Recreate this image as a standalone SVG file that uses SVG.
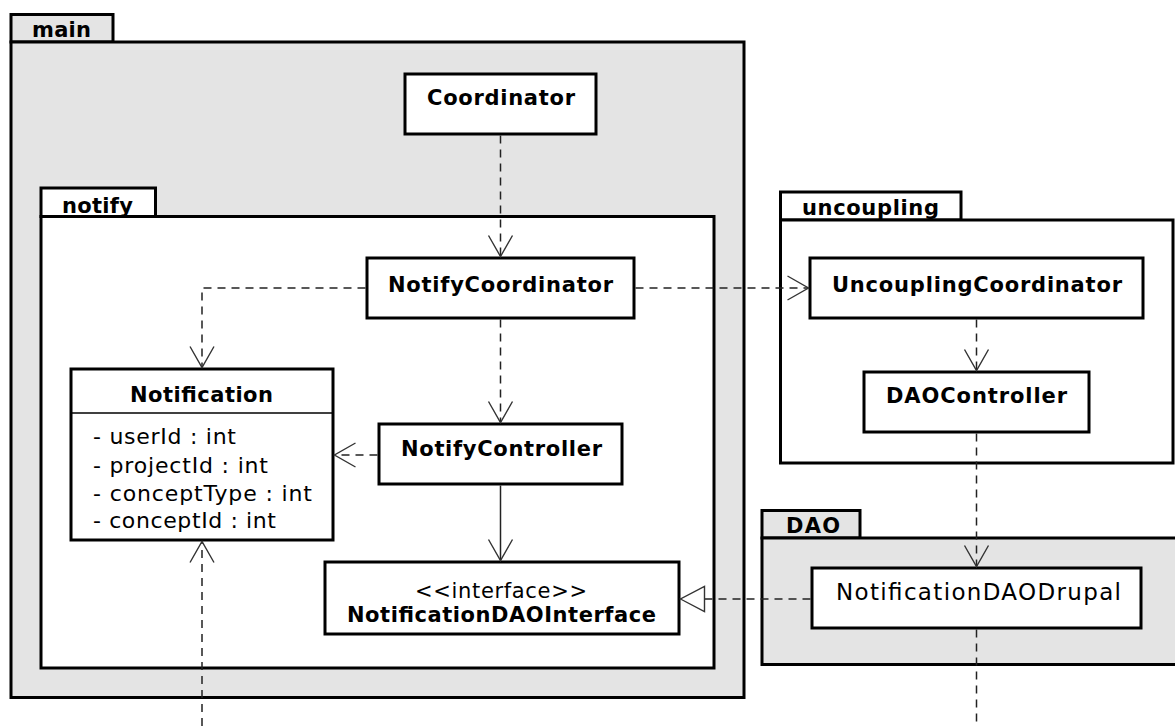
<svg xmlns="http://www.w3.org/2000/svg" width="1175" height="726" viewBox="0 0 1175 726">
  <style>
    .pkg { stroke: #000; stroke-width: 3; }
    .pkg-gray { fill: #e4e4e4; }
    .pkg-white { fill: #fff; }
    .cls { fill: #fff; stroke: #000; stroke-width: 3; }
    .sep { stroke: #000; stroke-width: 1.5; }
    .tab { font-family: "DejaVu Sans", sans-serif; font-weight: bold; font-size: 21px; fill: #000; }
    .name { font-family: "DejaVu Sans", sans-serif; font-weight: bold; font-size: 21px; fill: #000; }
    .plain { font-family: "DejaVu Sans", sans-serif; font-size: 22px; fill: #000; }
    .stereo { font-family: "DejaVu Sans", sans-serif; font-size: 21px; fill: #000; }
    .dep { fill: none; stroke: #222; stroke-width: 1.5; stroke-dasharray: 8 6; }
    .assoc { fill: none; stroke: #222; stroke-width: 1.5; }
  </style>
  <defs>
    <marker id="open" markerUnits="userSpaceOnUse" viewBox="-22 -14 24 28" refX="0" refY="0" markerWidth="24" markerHeight="28" orient="auto" overflow="visible">
      <path d="M -21 -12 L 0 0 L -21 12" fill="none" stroke="#333" stroke-width="1.4"/>
    </marker>
    <marker id="realize" markerUnits="userSpaceOnUse" viewBox="-26 -14 28 28" refX="0" refY="0" markerWidth="28" markerHeight="28" orient="auto" overflow="visible">
      <path d="M 0 0 L -24 -12.5 L -24 12.5 Z" fill="#fff" stroke="#333" stroke-width="1.4"/>
    </marker>
  </defs>

  <rect width="1175" height="726" fill="#fff"/>

  <!-- package: main -->
  <g id="pkg-main">
    <rect class="pkg pkg-gray" x="11" y="14.5" width="102" height="27.5"/>
    <rect class="pkg pkg-gray" x="11" y="42" width="733" height="655.5"/>
    <text class="tab" x="32" y="37" textLength="59" lengthAdjust="spacing">main</text>
  </g>

  <!-- package: notify -->
  <g id="pkg-notify">
    <rect class="pkg pkg-white" x="41" y="188" width="114.5" height="28.5"/>
    <rect class="pkg pkg-white" x="41" y="216.5" width="673" height="451.5"/>
    <text class="tab" x="62" y="212.5" textLength="71" lengthAdjust="spacing">notify</text>
  </g>

  <!-- package: uncoupling -->
  <g id="pkg-uncoupling">
    <rect class="pkg pkg-white" x="780.5" y="192" width="180.5" height="28"/>
    <rect class="pkg pkg-white" x="780.5" y="220" width="392.5" height="243"/>
    <text class="tab" x="802" y="215" textLength="137" lengthAdjust="spacing">uncoupling</text>
  </g>

  <!-- package: DAO -->
  <g id="pkg-dao">
    <rect class="pkg pkg-gray" x="762" y="510.5" width="98" height="27.5"/>
    <rect class="pkg pkg-gray" x="762" y="538" width="420" height="126.5"/>
    <text class="tab" x="786" y="533" textLength="54" lengthAdjust="spacing">DAO</text>
  </g>

  <!-- classes -->
  <g id="Coordinator">
    <rect class="cls" x="405" y="74" width="191" height="60"/>
    <text class="name" x="427" y="105" textLength="148" lengthAdjust="spacing">Coordinator</text>
  </g>

  <g id="NotifyCoordinator">
    <rect class="cls" x="367" y="258" width="267" height="60"/>
    <text class="name" x="388" y="292" textLength="225" lengthAdjust="spacing">NotifyCoordinator</text>
  </g>

  <g id="NotifyController">
    <rect class="cls" x="379" y="424" width="243" height="60"/>
    <text class="name" x="401" y="456" textLength="201" lengthAdjust="spacing">NotifyController</text>
  </g>

  <g id="Notification">
    <rect class="cls" x="71" y="369" width="262" height="171"/>
    <line class="sep" x1="71" y1="413" x2="333" y2="413"/>
    <text class="name" x="130" y="402" textLength="143" lengthAdjust="spacing">Notification</text>
    <text class="plain" x="93" y="444" textLength="143" lengthAdjust="spacing">- userId : int</text>
    <text class="plain" x="93" y="473" textLength="175" lengthAdjust="spacing">- projectId : int</text>
    <text class="plain" x="93" y="501" textLength="219" lengthAdjust="spacing">- conceptType : int</text>
    <text class="plain" x="93" y="528" textLength="183" lengthAdjust="spacing">- conceptId : int</text>
  </g>

  <g id="NotificationDAOInterface">
    <rect class="cls" x="325" y="562" width="354" height="72"/>
    <text class="stereo" x="415" y="598" textLength="172" lengthAdjust="spacing">&lt;&lt;interface&gt;&gt;</text>
    <text class="name" x="347" y="622" textLength="309" lengthAdjust="spacing">NotificationDAOInterface</text>
  </g>

  <g id="UncouplingCoordinator">
    <rect class="cls" x="810" y="258" width="333" height="60"/>
    <text class="name" x="832" y="292" textLength="290" lengthAdjust="spacing">UncouplingCoordinator</text>
  </g>

  <g id="DAOController">
    <rect class="cls" x="864" y="372" width="225" height="60"/>
    <text class="name" x="886" y="403" textLength="181" lengthAdjust="spacing">DAOController</text>
  </g>

  <g id="NotificationDAODrupal">
    <rect class="cls" x="812" y="568" width="329" height="60"/>
    <text class="plain" x="836" y="600" textLength="285" lengthAdjust="spacing" style="font-size:23px">NotificationDAODrupal</text>
  </g>

  <!-- connectors -->
  <g id="connectors">
    <path class="dep" d="M 500.5 135.5 L 500.5 256.5" marker-end="url(#open)"/>
    <path class="dep" d="M 365.5 288 L 202 288 L 202 367.5" marker-end="url(#open)"/>
    <path class="dep" d="M 500.5 319.5 L 500.5 422.5" marker-end="url(#open)"/>
    <path class="dep" d="M 377.5 455 L 334.5 455" marker-end="url(#open)"/>
    <path class="assoc" d="M 500.5 485.5 L 500.5 560.5" marker-end="url(#open)"/>
    <path class="dep" d="M 635.5 288 L 808.5 288" marker-end="url(#open)"/>
    <path class="dep" d="M 976.5 319.5 L 976.5 370.5" marker-end="url(#open)"/>
    <path class="dep" d="M 976.5 433.5 L 976.5 566.5" marker-end="url(#open)"/>
    <path class="dep" d="M 810.5 599 L 680.5 599" marker-end="url(#realize)"/>
    <path class="dep" d="M 202 726 L 202 541.5" marker-end="url(#open)"/>
    <path class="dep" d="M 976.5 629.5 L 976.5 726"/>
  </g>
</svg>
